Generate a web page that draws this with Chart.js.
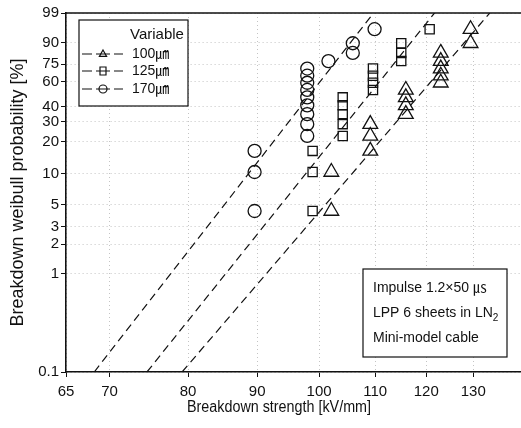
<!DOCTYPE html>
<html>
<head>
<meta charset="utf-8">
<script src="https://cdn.jsdelivr.net/npm/chart.js@4"></script>
<style>
    body { margin: 0; background: #fff; }
    #wrap { width: 521px; height: 428px; position: relative; }
</style>
</head>
<body>
<div id="wrap"><canvas id="weibullChart"></canvas></div>
<script>
//////////////////////* Axis ticks *////////////////////////////
let xTickValues = [65, 70, 80, 90, 100, 110, 120, 130];
let yTickValues = [0.1, 1, 2, 3, 5, 10, 20, 30, 40, 60, 75, 90, 99];

//////////////////////* Measured points *////////////////////////////
// 100um
let kv100 = [102.1, 102.1, 109.1, 109.1, 109.1, 115.9, 115.9, 115.9, 115.9, 123.0, 123.0, 123.0, 123.0, 123.0, 129.4, 129.4];
let prob100 = [4.3, 10.4, 16.5, 22.6, 28.7, 34.8, 40.9, 47.0, 53.0, 59.1, 65.2, 71.3, 77.4, 83.5, 89.6, 95.7];

// 125um
let kv125 = [98.9, 98.9, 98.9, 104.1, 104.1, 104.1, 104.1, 104.1, 109.6, 109.6, 109.6, 109.6, 115.0, 115.0, 115.0, 120.7];
let prob125 = [4.3, 10.4, 16.5, 22.6, 28.7, 34.8, 40.9, 47.0, 53.0, 59.1, 65.2, 71.3, 77.4, 83.5, 89.6, 95.7];

// 170um
let kv170 = [89.6, 89.6, 89.6, 98.0, 98.0, 98.0, 98.0, 98.0, 98.0, 98.0, 98.0, 98.0, 101.6, 105.9, 105.9, 109.9];
let prob170 = [4.3, 10.4, 16.5, 22.6, 28.7, 34.8, 40.9, 47.0, 53.0, 59.1, 65.2, 71.3, 77.4, 83.5, 89.6, 95.7];

//////////////////////* Fitted lines (end points) *////////////////////////////
let fitKv100 = [79.2, 133.7];
let fitKv125 = [74.6, 121.7];
let fitKv170 = [68.2, 109.7];
let fitProb = [0.1, 99];

let seriesNames = ["100\u339B", "125\u339B", "170\u339B"];

//////////////////////* Weibull scale *////////////////////////////
function weibull(p) {
    return Math.log(-Math.log(1 - p / 100));
}

function toPoints(kv, prob) {
    return kv.map(function (v, i) {
        return { x: v, y: weibull(prob[i]) };
    });
}

let mainFont = "'Liberation Sans', Arial, 'Noto Sans CJK KR', sans-serif";
let inkColor = "#111";

function scatterSet(label, kv, prob, style, radius) {
    return {
        type: "scatter",
        label: label,
        data: toPoints(kv, prob),
        pointStyle: style,
        pointRadius: radius,
        pointHoverRadius: radius,
        pointBorderWidth: 1.3,
        borderColor: inkColor,
        backgroundColor: "rgba(0,0,0,0)",
    };
}

function fitSet(kv) {
    return {
        type: "line",
        data: toPoints(kv, fitProb),
        borderColor: inkColor,
        borderWidth: 1.2,
        borderDash: [8, 5],
        pointRadius: 0,
        fill: false,
    };
}

//////////////////////* Legend + note box *////////////////////////////
function drawMarker(ctx, style, x, y, r) {
    ctx.beginPath();
    if (style === "triangle") {
        ctx.moveTo(x, y - r);
        ctx.lineTo(x + r * 0.9, y + r * 0.6);
        ctx.lineTo(x - r * 0.9, y + r * 0.6);
        ctx.closePath();
    } else if (style === "rect") {
        ctx.rect(x - r * 0.75, y - r, r * 1.5, r * 2);
    } else {
        ctx.arc(x, y, r, 0, Math.PI * 2);
    }
    ctx.stroke();
}

let boxPlugin = {
    id: "boxPlugin",
    afterDraw: function (chart) {
        let ctx = chart.ctx;
        let area = chart.chartArea;
        ctx.save();
        ctx.strokeStyle = inkColor;
        ctx.fillStyle = inkColor;

        // top frame line
        ctx.lineWidth = 1.6;
        ctx.beginPath();
        ctx.moveTo(area.left, area.top);
        ctx.lineTo(area.right, area.top);
        ctx.stroke();

        // x axis title (condensed, as in the original figure)
        let xTitle = "Breakdown strength [kV/mm]";
        ctx.font = "16px " + mainFont;
        ctx.textAlign = "center";
        ctx.textBaseline = "middle";
        let squeeze = 184 / ctx.measureText(xTitle).width;
        ctx.save();
        ctx.translate(279, 408);
        ctx.scale(squeeze, 1);
        ctx.fillText(xTitle, 0, 0);
        ctx.restore();

        // legend
        ctx.lineWidth = 1.2;
        ctx.fillStyle = "#fff";
        ctx.fillRect(79, 20, 109, 86);
        ctx.strokeRect(79, 20, 109, 86);
        ctx.fillStyle = inkColor;
        ctx.font = "15px " + mainFont;
        ctx.textAlign = "left";
        ctx.fillText("Variable", 130, 35);

        let styles = ["triangle", "rect", "circle"];
        let rows = [54, 71, 89];
        ctx.font = "14px " + mainFont;
        for (let i = 0; i < 3; i++) {
            let y = rows[i];
            ctx.lineWidth = 1.2;
            ctx.beginPath();
            ctx.moveTo(82, y); ctx.lineTo(92, y);
            ctx.moveTo(96, y); ctx.lineTo(110, y);
            ctx.moveTo(114, y); ctx.lineTo(123, y);
            ctx.stroke();
            drawMarker(ctx, styles[i], 103, y, 4);
            ctx.fillText(seriesNames[i], 132, y);
        }

        // note box
        ctx.lineWidth = 1.2;
        ctx.fillStyle = "#fff";
        ctx.fillRect(363, 269, 144, 88);
        ctx.strokeRect(363, 269, 144, 88);
        ctx.fillStyle = inkColor;
        ctx.font = "14px " + mainFont;
        ctx.fillText("Impulse 1.2\u00D750 \u33B2", 373, 288);
        ctx.fillText("LPP 6 sheets in LN", 373, 313);
        let w = ctx.measureText("LPP 6 sheets in LN").width;
        ctx.font = "10px " + mainFont;
        ctx.fillText("2", 373 + w, 318);
        ctx.font = "14px " + mainFont;
        ctx.fillText("Mini-model cable", 373, 338);
        ctx.restore();
    },
};

//////////////////////* Chart *////////////////////////////
function weibullChart() {
    let ctx = document.getElementById("weibullChart");
    let data = {
        datasets: [
            fitSet(fitKv100),
            fitSet(fitKv125),
            fitSet(fitKv170),
            scatterSet(seriesNames[0], kv100, prob100, "triangle", 8.5),
            scatterSet(seriesNames[1], kv125, prob125, "rect", 6.5),
            scatterSet(seriesNames[2], kv170, prob170, "circle", 6.5),
        ],
    };
    let config = {
        data: data,
        plugins: [boxPlugin],
        options: {
            responsive: true,
            maintainAspectRatio: false,
            animation: false,
            layout: {
                autoPadding: false,
                padding: { top: 13, right: 0, left: 0, bottom: 0 },
            },
            plugins: {
                legend: { display: false },
                tooltip: { enabled: false },
            },
            scales: {
                x: {
                    type: "logarithmic",
                    min: 65,
                    max: 141,
                    afterBuildTicks: function (axis) {
                        axis.ticks = xTickValues.map(function (v) { return { value: v }; });
                    },
                    afterFit: function (axis) {
                        axis.height = 56;
                        axis.paddingLeft = 0;
                        axis.paddingRight = 0;
                    },
                    ticks: {
                        color: inkColor,
                        padding: 6,
                        maxRotation: 0,
                        autoSkip: false,
                        callback: function (value) { return String(value); },
                        font: { family: mainFont, size: 15 },
                    },
                    title: { display: false },
                    grid: {
                        color: "#c4c4c4",
                        tickColor: inkColor,
                        tickLength: 5,
                        tickBorderDash: [],
                    },
                    border: { display: true, color: inkColor, width: 1.6, dash: [1, 3] },
                },
                y: {
                    type: "linear",
                    min: weibull(0.1),
                    max: weibull(99),
                    afterBuildTicks: function (axis) {
                        axis.ticks = yTickValues.map(function (v) { return { value: weibull(v) }; });
                    },
                    afterFit: function (axis) { axis.width = 66; },
                    ticks: {
                        color: inkColor,
                        padding: 2,
                        autoSkip: false,
                        callback: function (value, index) { return String(yTickValues[index]); },
                        font: { family: mainFont, size: 15 },
                    },
                    title: {
                        display: true,
                        text: "Breakdown weibull probability [%]",
                        color: inkColor,
                        padding: { top: 7, bottom: 2 },
                        font: { family: mainFont, size: 18 },
                    },
                    grid: {
                        color: "#c4c4c4",
                        tickColor: inkColor,
                        tickLength: 5,
                        tickBorderDash: [],
                    },
                    border: { display: true, color: inkColor, width: 1.6, dash: [1, 3] },
                },
            },
        },
    };
    let chart = new Chart(ctx, config);
}

weibullChart();
</script>
</body>
</html>
